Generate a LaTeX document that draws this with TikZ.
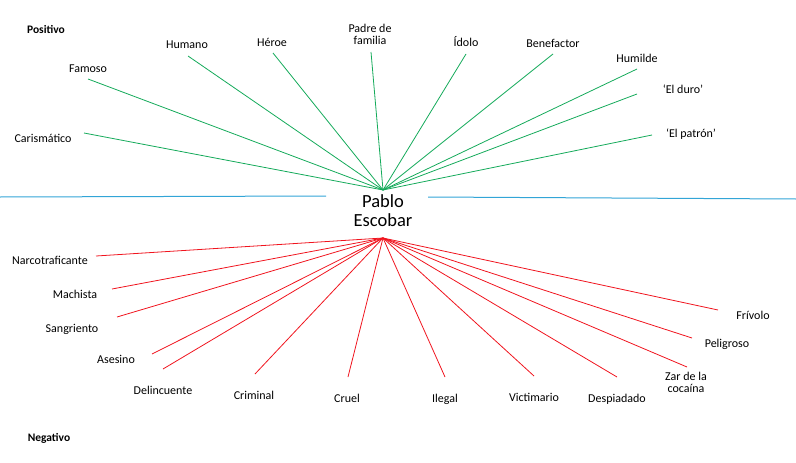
\documentclass[tikz,border=0pt]{standalone}
\usepackage{fontspec}
\setmainfont{Carlito}
\definecolor{posgreen}{RGB}{20,170,90}
\definecolor{negred}{RGB}{240,20,30}
\definecolor{axisblue}{RGB}{50,165,215}
\tikzset{
  lbl/.style={font=\fontsize{12}{12}\selectfont, inner sep=0pt, anchor=base, align=center},
  headlbl/.style={font=\fontsize{11.5}{12}\selectfont\bfseries, inner sep=0pt, anchor=base},
  posline/.style={draw=posgreen, line width=0.8pt},
  negline/.style={draw=negred, line width=0.8pt},
  axisline/.style={draw=axisblue, line width=1pt}
}
\begin{document}
\begin{tikzpicture}[x=1pt,y=-1pt]
\useasboundingbox (0,0) rectangle (796,463);
% headings
\node[headlbl] (positivo) at (46,33) {Positivo};
\node[headlbl] (negativo) at (49,441) {Negativo};
% center
\node[font=\fontsize{18.5}{19}\selectfont, align=center, inner sep=0pt, anchor=base] (pablo) at (383,226) {Pablo\\Escobar};
\coordinate (gh) at (383,190);
\coordinate (rh) at (383,238);
% axis
\coordinate (axL1) at (0,197);
\coordinate (axL2) at (326,196);
\coordinate (axR1) at (428,197);
\coordinate (axR2) at (796,199);
\draw[axisline] (axL1) -- (axL2);
\draw[axisline] (axR1) -- (axR2);
% positive labels
\node[lbl] (caris) at (43,142) {Carismático};
\node[lbl] (famoso) at (88,72) {Famoso};
\node[lbl] (humano) at (187,48) {Humano};
\node[lbl] (heroe) at (272,46) {Héroe};
\node[lbl] (padre) at (370,44) {Padre de\\familia};
\node[lbl] (idolo) at (466,46) {Ídolo};
\node[lbl] (benef) at (553,47) {Benefactor};
\node[lbl] (humilde) at (637,62) {Humilde};
\node[lbl] (duro) at (683,93) {‘El duro’};
\node[lbl] (patron) at (691,137) {‘El patrón’};
\coordinate (ecaris) at (84,133);
\coordinate (efamoso) at (88,79);
\coordinate (ehumano) at (188,56);
\coordinate (eheroe) at (273,53);
\coordinate (epadre) at (371,52);
\coordinate (eidolo) at (466,54);
\coordinate (ebenef) at (553,54);
\coordinate (ehumilde) at (637,69);
\coordinate (eduro) at (637,94);
\coordinate (epatron) at (652,135);
\foreach \e in {ecaris,efamoso,ehumano,eheroe,epadre,eidolo,ebenef,ehumilde,eduro,epatron}
  \draw[posline] (gh) -- (\e);
% negative labels
\node[lbl] (narco) at (50,264) {Narcotraficante};
\node[lbl] (machista) at (75,298) {Machista};
\node[lbl] (sangr) at (72,332) {Sangriento};
\node[lbl] (asesino) at (116,363) {Asesino};
\node[lbl] (delinc) at (163,394) {Delincuente};
\node[lbl] (criminal) at (254,399) {Criminal};
\node[lbl] (cruel) at (347,402) {Cruel};
\node[lbl] (ilegal) at (445,402) {Ilegal};
\node[lbl] (victim) at (534,401) {Victimario};
\node[lbl] (despi) at (617,402) {Despiadado};
\node[lbl] (zar) at (686,392) {Zar de la\\cocaína};
\node[lbl] (peligroso) at (727,347) {Peligroso};
\node[lbl] (frivolo) at (753,319) {Frívolo};
\coordinate (enarco) at (96,256);
\coordinate (emachista) at (112,289);
\coordinate (esangr) at (117,317);
\coordinate (easesino) at (152,354);
\coordinate (edelinc) at (163,369);
\coordinate (ecriminal) at (255,374);
\coordinate (ecruel) at (348,377);
\coordinate (eilegal) at (445,377);
\coordinate (evictim) at (534,376);
\coordinate (edespi) at (617,377);
\coordinate (ezar) at (687,367);
\coordinate (epeligroso) at (692,338);
\coordinate (efrivolo) at (718,310);
\foreach \e in {enarco,emachista,esangr,easesino,edelinc,ecriminal,ecruel,eilegal,evictim,edespi,ezar,epeligroso,efrivolo}
  \draw[negline] (rh) -- (\e);
\end{tikzpicture}
\end{document}
